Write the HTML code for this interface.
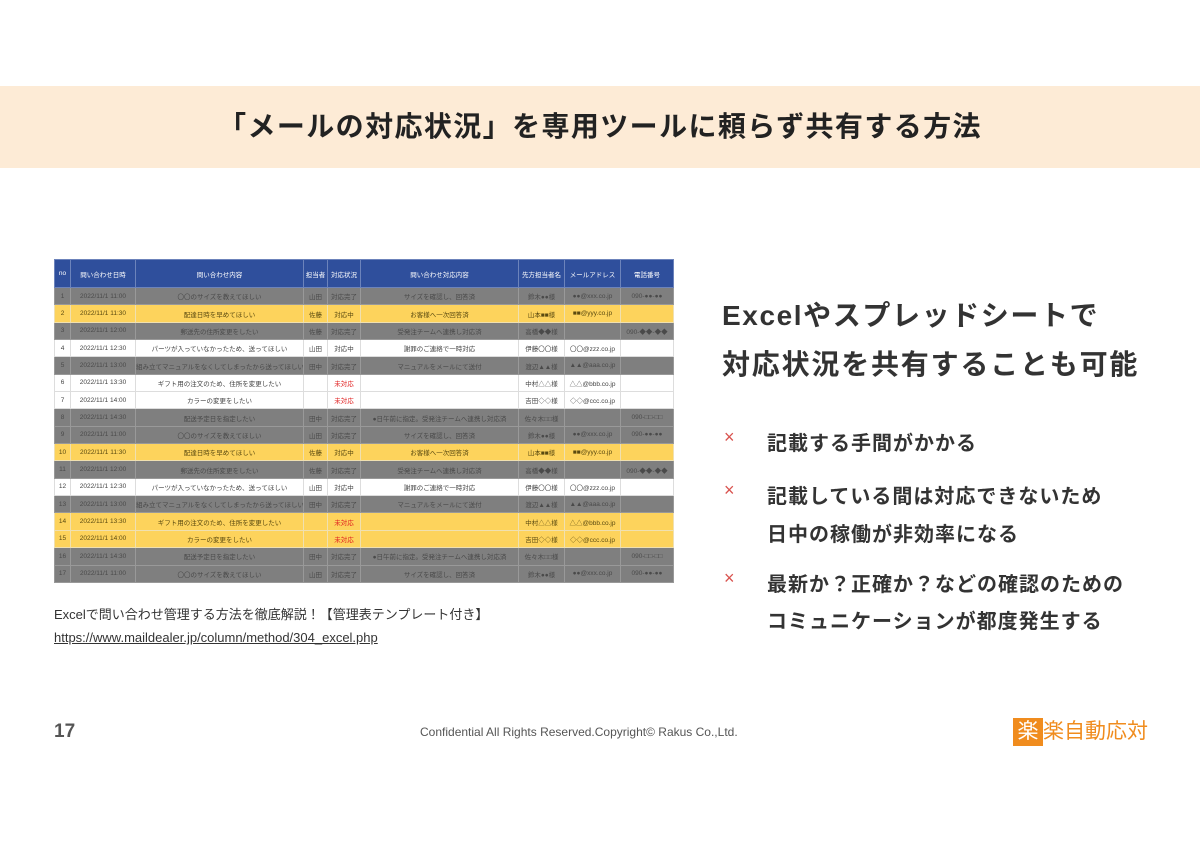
<!DOCTYPE html><html><head><meta charset="utf-8"><style>
*{margin:0;padding:0;box-sizing:border-box}
body{width:1200px;height:848px;background:#fff;position:relative;overflow:hidden;font-family:"Liberation Sans","Noto Sans CJK JP",sans-serif;color:#333}
.ban{position:absolute;left:0;top:86px;width:1200px;height:82px;background:#fdebd6}
.ban div{text-align:center;font-size:28px;font-weight:bold;line-height:82px;color:#222;letter-spacing:1.4px}
table{position:absolute;left:54px;top:259px;width:619px;border-collapse:collapse;table-layout:fixed;font-size:6.5px}
td{height:17.35px;text-align:center;border:1px solid #ddd;white-space:nowrap;overflow:hidden;color:#444;padding:0}
tr.h td{height:28px;background:#2f4f9c;color:#fff;border-color:#6c83bb}
tr.g td{background:#7f7f7f;color:#4a4a4a;border-color:#999}
tr.y td{background:#fdd35c;color:#5a4a10;border-color:#f0e0b0}
tr.w td{background:#fff}
td.r{color:#e02020!important}
.rt{position:absolute;left:722px;font-weight:bold;color:#333}
.x{position:absolute;left:724px;color:#d9534f;font-size:18px}
.it{position:absolute;left:767px;font-size:20px;font-weight:bold;color:#333;letter-spacing:1px}
</style></head><body>
<div class="ban"><div>「メールの対応状況」を専用ツールに頼らず共有する方法</div></div>
<table>
<colgroup><col style="width:16px"><col style="width:65px"><col style="width:168px"><col style="width:24px"><col style="width:33px"><col style="width:158px"><col style="width:46px"><col style="width:56px"><col style="width:53px"></colgroup>
<tr class="h"><td>no</td><td>問い合わせ日時</td><td>問い合わせ内容</td><td>担当者</td><td>対応状況</td><td>問い合わせ対応内容</td><td>先方担当者名</td><td>メールアドレス</td><td>電話番号</td></tr>
<tr class="g"><td>1</td><td>2022/11/1 11:00</td><td>〇〇のサイズを教えてほしい</td><td>山田</td><td>対応完了</td><td>サイズを確認し、回答済</td><td>鈴木●●様</td><td>●●@xxx.co.jp</td><td>090-●●-●●</td></tr>
<tr class="y"><td>2</td><td>2022/11/1 11:30</td><td>配達日時を早めてほしい</td><td>佐藤</td><td>対応中</td><td>お客様へ一次回答済</td><td>山本■■様</td><td>■■@yyy.co.jp</td><td></td></tr>
<tr class="g"><td>3</td><td>2022/11/1 12:00</td><td>郵送先の住所変更をしたい</td><td>佐藤</td><td>対応完了</td><td>受発注チームへ連携し対応済</td><td>高橋◆◆様</td><td></td><td>090-◆◆-◆◆</td></tr>
<tr class="w"><td>4</td><td>2022/11/1 12:30</td><td>パーツが入っていなかったため、送ってほしい</td><td>山田</td><td>対応中</td><td>謝罪のご連絡で一時対応</td><td>伊藤〇〇様</td><td>〇〇@zzz.co.jp</td><td></td></tr>
<tr class="g"><td>5</td><td>2022/11/1 13:00</td><td>組み立てマニュアルをなくしてしまったから送ってほしい</td><td>田中</td><td>対応完了</td><td>マニュアルをメールにて送付</td><td>渡辺▲▲様</td><td>▲▲@aaa.co.jp</td><td></td></tr>
<tr class="w"><td>6</td><td>2022/11/1 13:30</td><td>ギフト用の注文のため、住所を変更したい</td><td></td><td class="r">未対応</td><td></td><td>中村△△様</td><td>△△@bbb.co.jp</td><td></td></tr>
<tr class="w"><td>7</td><td>2022/11/1 14:00</td><td>カラーの変更をしたい</td><td></td><td class="r">未対応</td><td></td><td>吉田◇◇様</td><td>◇◇@ccc.co.jp</td><td></td></tr>
<tr class="g"><td>8</td><td>2022/11/1 14:30</td><td>配送予定日を指定したい</td><td>田中</td><td>対応完了</td><td>●日午前に指定。受発注チームへ連携し対応済</td><td>佐々木□□様</td><td></td><td>090-□□-□□</td></tr>
<tr class="g"><td>9</td><td>2022/11/1 11:00</td><td>〇〇のサイズを教えてほしい</td><td>山田</td><td>対応完了</td><td>サイズを確認し、回答済</td><td>鈴木●●様</td><td>●●@xxx.co.jp</td><td>090-●●-●●</td></tr>
<tr class="y"><td>10</td><td>2022/11/1 11:30</td><td>配達日時を早めてほしい</td><td>佐藤</td><td>対応中</td><td>お客様へ一次回答済</td><td>山本■■様</td><td>■■@yyy.co.jp</td><td></td></tr>
<tr class="g"><td>11</td><td>2022/11/1 12:00</td><td>郵送先の住所変更をしたい</td><td>佐藤</td><td>対応完了</td><td>受発注チームへ連携し対応済</td><td>高橋◆◆様</td><td></td><td>090-◆◆-◆◆</td></tr>
<tr class="w"><td>12</td><td>2022/11/1 12:30</td><td>パーツが入っていなかったため、送ってほしい</td><td>山田</td><td>対応中</td><td>謝罪のご連絡で一時対応</td><td>伊藤〇〇様</td><td>〇〇@zzz.co.jp</td><td></td></tr>
<tr class="g"><td>13</td><td>2022/11/1 13:00</td><td>組み立てマニュアルをなくしてしまったから送ってほしい</td><td>田中</td><td>対応完了</td><td>マニュアルをメールにて送付</td><td>渡辺▲▲様</td><td>▲▲@aaa.co.jp</td><td></td></tr>
<tr class="y"><td>14</td><td>2022/11/1 13:30</td><td>ギフト用の注文のため、住所を変更したい</td><td></td><td class="r">未対応</td><td></td><td>中村△△様</td><td>△△@bbb.co.jp</td><td></td></tr>
<tr class="y"><td>15</td><td>2022/11/1 14:00</td><td>カラーの変更をしたい</td><td></td><td class="r">未対応</td><td></td><td>吉田◇◇様</td><td>◇◇@ccc.co.jp</td><td></td></tr>
<tr class="g"><td>16</td><td>2022/11/1 14:30</td><td>配送予定日を指定したい</td><td>田中</td><td>対応完了</td><td>●日午前に指定。受発注チームへ連携し対応済</td><td>佐々木□□様</td><td></td><td>090-□□-□□</td></tr>
<tr class="g"><td>17</td><td>2022/11/1 11:00</td><td>〇〇のサイズを教えてほしい</td><td>山田</td><td>対応完了</td><td>サイズを確認し、回答済</td><td>鈴木●●様</td><td>●●@xxx.co.jp</td><td>090-●●-●●</td></tr>
</table>
<div style="position:absolute;left:54px;top:604px;font-size:13px;color:#333">Excelで問い合わせ管理する方法を徹底解説！【管理表テンプレート付き】</div>
<div style="position:absolute;left:54px;top:630px;font-size:13px;color:#333;text-decoration:underline">https://www.maildealer.jp/column/method/304_excel.php</div>
<div class="rt" style="top:294px;font-size:28px;letter-spacing:1.6px">Excelやスプレッドシートで</div>
<div class="rt" style="top:343px;font-size:28px;letter-spacing:1.8px">対応状況を共有することも可能</div>
<div class="x" style="top:427px">×</div><div class="it" style="top:427px">記載する手間がかかる</div>
<div class="x" style="top:480px">×</div><div class="it" style="top:480px">記載している間は対応できないため</div>
<div class="it" style="top:518px">日中の稼働が非効率になる</div>
<div class="x" style="top:568px">×</div><div class="it" style="top:568px">最新か？正確か？などの確認のための</div>
<div class="it" style="top:605px">コミュニケーションが都度発生する</div>
<div style="position:absolute;left:54px;top:721px;font-size:19px;font-weight:bold;color:#555">17</div>
<div style="position:absolute;left:420px;top:725px;font-size:12px;color:#555">Confidential All Rights Reserved.Copyright© Rakus Co.,Ltd.</div>
<div style="position:absolute;left:1013px;top:718px;width:30px;height:28px;background:#f08c1e;color:#fff;font-size:21px;line-height:28px;text-align:center">楽</div>
<div style="position:absolute;left:1043px;top:718px;font-size:21px;line-height:28px;color:#f08c1e">楽自動応対</div>
</body></html>
